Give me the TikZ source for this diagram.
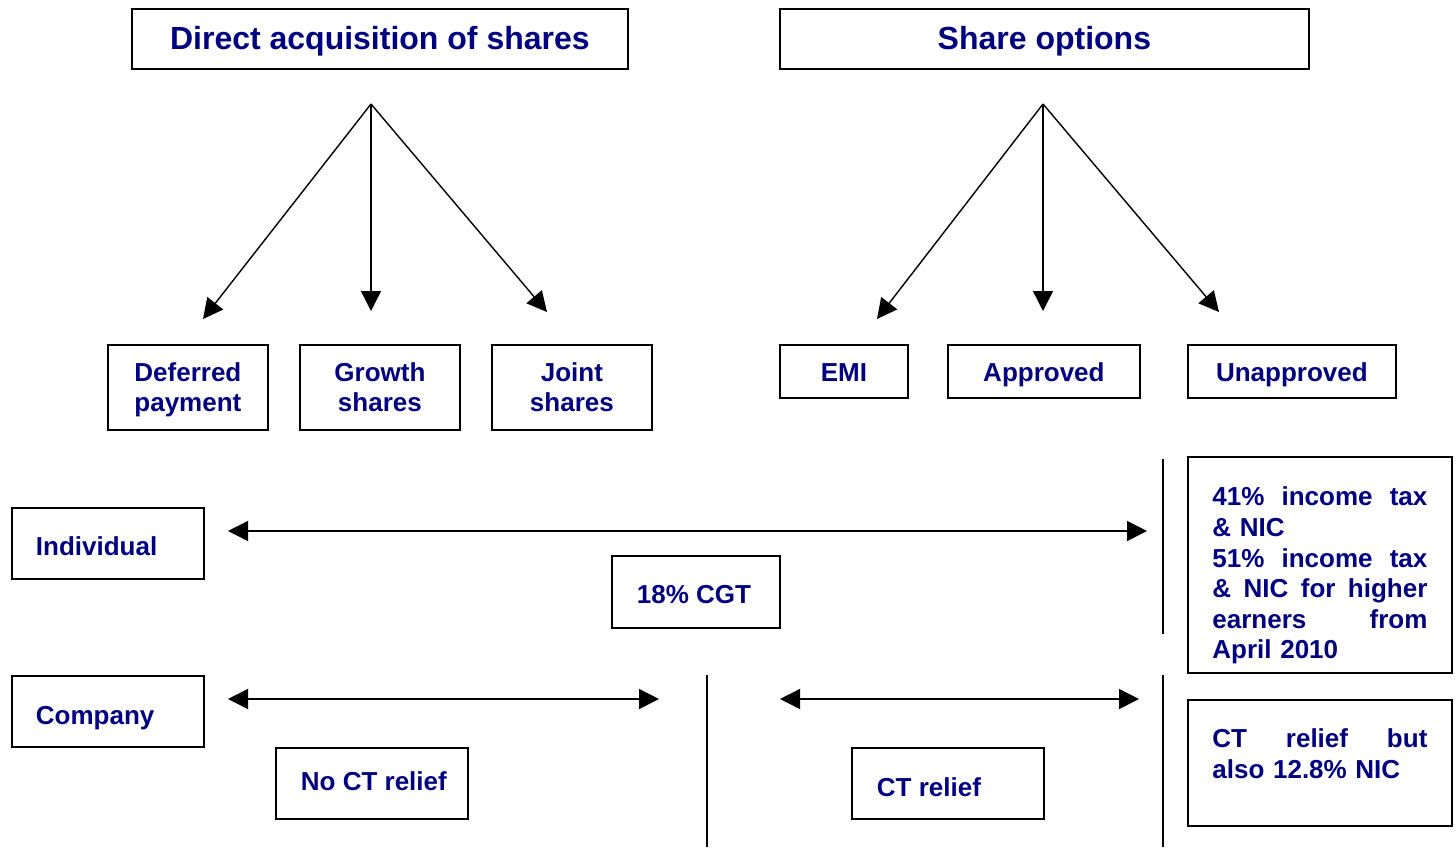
\documentclass[tikz,border=0pt]{standalone}
\usepackage{fontspec}
\setmainfont{Liberation Sans}
\usetikzlibrary{arrows.meta}
\definecolor{navy}{RGB}{0,0,128}
\begin{document}
\begin{tikzpicture}[x=1pt,y=-1pt,
  box/.style={draw, line width=1.8pt, inner sep=0pt, text=navy, anchor=north west,
    text depth=0pt, font=\fontsize{26}{30}\selectfont\bfseries},
  titlebox/.style={box, minimum height=60pt, text height=22pt, font=\fontsize{32}{38}\selectfont\bfseries},
  subbox/.style={box, align=center},
  twoline/.style={subbox, minimum width=160pt, minimum height=85pt, text height=48.6pt, text depth=0pt},
  arr/.style={line width=1.4pt, -{Triangle[length=20pt,width=20pt]}},
  darr/.style={line width=1.4pt, {Triangle[length=20pt,width=20pt]}-{Triangle[length=20pt,width=20pt]}},
  sep/.style={line width=1.5pt}]
\useasboundingbox (0,0) rectangle (1456,847);

% top headers
\node[titlebox, minimum width=496pt] (dir) at (131,8) {Direct acquisition of shares};
\node[titlebox, minimum width=529pt] (opt) at (779,8) {Share options};

% second row
\node[twoline] (def) at (107,344) {Deferred\\payment};
\node[twoline] (gro) at (299,344) {Growth\\shares};
\node[twoline] (joi) at (491,344) {Joint\\shares};
\node[subbox, minimum width=128pt, minimum height=53pt, text height=20pt] (emi) at (779,344) {EMI};
\node[subbox, minimum width=192pt, minimum height=53pt, text height=20pt] (app) at (947,344) {Approved};
\node[subbox, minimum width=208pt, minimum height=53pt, text height=20pt] (una) at (1187,344) {Unapproved};

% arrows from headers
\coordinate (dsrc) at (371,104);
\coordinate (dl) at (203,319);
\coordinate (dm) at (371,311);
\coordinate (dr) at (547,312);
\coordinate (ssrc) at (1043,104);
\coordinate (sl) at (877,319);
\coordinate (sm) at (1043,311);
\coordinate (sr) at (1219,312);
\draw[arr] (dsrc) -- (dl);
\draw[arr] (dsrc) -- (dm);
\draw[arr] (dsrc) -- (dr);
\draw[arr] (ssrc) -- (sl);
\draw[arr] (ssrc) -- (sm);
\draw[arr] (ssrc) -- (sr);

% left labels
\node[box, minimum width=192pt, minimum height=71pt, text height=25pt] (ind) at (11,507) {\makebox[192pt][l]{\hspace{24pt}Individual}};
\node[box, minimum width=192pt, minimum height=71pt, text height=27pt] (com) at (11,675) {\makebox[192pt][l]{\hspace{24pt}Company}};

% middle labels
\node[box, minimum width=168pt, minimum height=72pt, text height=24pt] (cgt) at (611,555) {\makebox[168pt][l]{\hspace{25pt}18\% CGT}};
\node[box, minimum width=192pt, minimum height=71pt, text height=15pt] (noct) at (275,747) {\makebox[192pt][l]{\hspace{25pt}No CT relief}};
\node[box, minimum width=192pt, minimum height=71pt, text height=27pt] (ct) at (851,747) {\makebox[192pt][l]{\hspace{25pt}CT relief}};

% right boxes
\node[box, text width=215pt, inner xsep=24.5pt, inner ysep=0pt, align=left, text depth={},
  font=\fontsize{26}{30.6}\selectfont\bfseries] (it) at (1187,456)
  {\rule{0pt}{49pt}41\%\hfill income\hfill tax\\
   \&~NIC\\
   51\%\hfill income\hfill tax\\
   \&\hfill NIC\hfill for\hfill higher\\
   earners\hfill from\\
   April 2010\rule[-14pt]{0pt}{0pt}};
\node[box, text width=215pt, inner xsep=24.5pt, inner ysep=0pt, align=left, text depth={},
  font=\fontsize{26}{31}\selectfont\bfseries] (ctn) at (1187,699)
  {\rule{0pt}{48pt}CT\hfill relief\hfill but\\
   also 12.8\% NIC\rule[-47pt]{0pt}{0pt}};

% horizontal arrows
\coordinate (i1) at (228,531);
\coordinate (i2) at (1147,531);
\coordinate (c1) at (228,699);
\coordinate (c2) at (659,699);
\coordinate (c3) at (780,699);
\coordinate (c4) at (1139,699);
\draw[darr] (i1) -- (i2);
\draw[darr] (c1) -- (c2);
\draw[darr] (c3) -- (c4);

% separators
\coordinate (v1a) at (1163,459);
\coordinate (v1b) at (1163,634);
\coordinate (v2a) at (707,675);
\coordinate (v2b) at (707,847);
\coordinate (v3a) at (1163,675);
\coordinate (v3b) at (1163,847);
\draw[sep] (v1a) -- (v1b);
\draw[sep] (v2a) -- (v2b);
\draw[sep] (v3a) -- (v3b);
\end{tikzpicture}
\end{document}
